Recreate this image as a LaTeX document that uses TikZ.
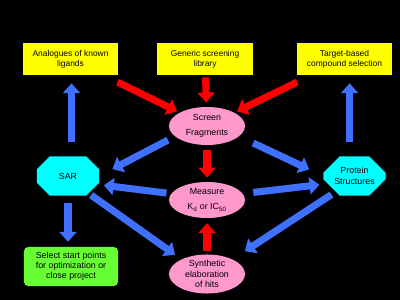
\documentclass[tikz,border=0pt]{standalone}
\usepackage{fontspec}
\setmainfont{Liberation Sans}
\usetikzlibrary{arrows.meta,shapes.geometric,shapes.misc}

\definecolor{libyellow}{RGB}{255,255,0}
\definecolor{ovalpink}{RGB}{255,153,204}
\definecolor{octcyan}{RGB}{0,255,255}
\definecolor{endgreen}{RGB}{102,255,51}
\definecolor{hitred}{RGB}{255,0,0}
\definecolor{hitblue}{RGB}{64,112,255}

\begin{document}
\begin{tikzpicture}[
  x=0.025cm, y=-0.025cm,
  lib/.style={fill=libyellow, minimum width=2.375cm, minimum height=0.8cm, inner sep=1pt, align=center, font=\fontsize{6}{7.2}\selectfont},
  oval/.style={ellipse, fill=ovalpink, minimum width=1.9cm, minimum height=0.95cm, inner sep=0pt, align=center, font=\fontsize{6.3}{10.7}\selectfont},
  octa/.style={chamfered rectangle, chamfered rectangle xsep=5.7pt, chamfered rectangle ysep=5.7pt, fill=octcyan, minimum width=1.55cm, minimum height=0.975cm, inner sep=1pt, align=center, font=\fontsize{6.3}{7.8}\selectfont},
  endbox/.style={fill=endgreen, rounded corners=3pt, minimum width=2.35cm, minimum height=0.975cm, inner sep=1pt, align=center, font=\fontsize{6.3}{7.2}\selectfont},
  fat/.style={line width=5pt, -{Triangle[length=7pt,width=12pt]}},
  redarr/.style={fat, draw=hitred},
  bluearr/.style={fat, draw=hitblue}
]
\fill[black] (0,0) rectangle (400,300);

% Sources of compounds
\node[lib] (ana) at (70.5,59) {Analogues of known\\ligands};
\node[lib] (gen) at (205,59) {Generic screening\\library};
\node[lib] (tgt) at (344.5,59) {Target-based\\compound selection};

% Central loop
\node[oval] (scr) at (207,126) {Screen\\Fragments};
\node[oval, minimum height=0.9cm] (mea) at (207,200) {Measure\\K\textsubscript{d} or IC\textsubscript{50}};
\node[oval, font=\fontsize{6.3}{7.5}\selectfont] (syn) at (207,274) {Synthetic\\elaboration\\of hits};

\node[octa] (sar) at (68,176) {SAR};
\node[octa] (pro) at (354.5,176) {Protein\\Structures};
\node[endbox] (sel) at (71,266.5) {Select start points\\for optimization or\\close project};

% Red arrows
\draw[redarr, shorten <=11pt, shorten >=2pt] (ana) -- (scr);
\draw[redarr, shorten <=1.5pt, shorten >=3pt] (gen) -- (scr);
\draw[redarr, shorten <=11pt, shorten >=2pt] (tgt) -- (scr);
\draw[redarr, shorten <=3.5pt, shorten >=3pt] (scr) -- (mea);
\draw[redarr, shorten <=2pt, shorten >=3.5pt] (syn) -- (mea);

% Blue arrows
\draw[bluearr, shorten <=10pt, shorten >=5.7pt] ([xshift=2.5pt]sar.north) -- ([xshift=2.5pt]sar.north |- ana.south);
\draw[bluearr, shorten <=10pt, shorten >=5.7pt] ([xshift=-3.5pt]pro.north) -- ([xshift=-3.5pt]pro.north |- tgt.south);
\draw[bluearr, shorten <=5.5pt, shorten >=10.5pt] (scr.198) -- (sar.east);
\draw[bluearr, shorten <=11pt, shorten >=11pt] (scr.-18) -- (pro.west);
\draw[bluearr, shorten <=3.3pt, shorten >=4.3pt] (mea.170) -- (sar.-16);
\draw[bluearr, shorten <=7.4pt, shorten >=5.7pt] (mea.10) -- (pro.196);
\draw[bluearr, shorten <=2pt, shorten >=5.6pt] (sar.-40) -- (syn.150);
\draw[bluearr, shorten <=3.5pt, shorten >=10.4pt] (pro.220) -- (syn.30);
\draw[bluearr, shorten <=5pt, shorten >=3.5pt] (sar.south) -- (sar.south |- sel.north);
\end{tikzpicture}
\end{document}
